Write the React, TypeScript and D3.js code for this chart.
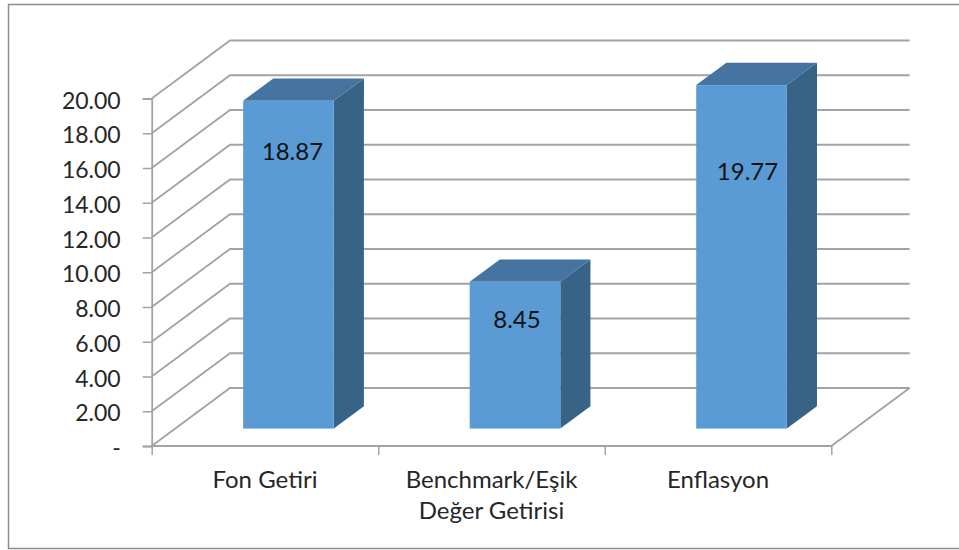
import { useEffect, useRef } from 'react';
import * as d3 from 'd3';

const categories = ['Fon Getiri', 'Benchmark/Eşik Değer Getirisi', 'Enflasyon'];
const values = [18.87, 8.45, 19.77];
const yTicks = [0, 2, 4, 6, 8, 10, 12, 14, 16, 18, 20];

// the labels do not sit at a fixed place on the bars
const labelDrop = [59.5, 46, 95];
const labelShift = [4, 2, 6];
const categoryLines = [['Fon Getiri'], ['Benchmark/Eşik', 'Değer Getirisi'], ['Enflasyon']];

const FONT = 'Lato, "Noto Sans", sans-serif';
const TEXT = '#262626';
const GRID = '#a3a3a3';

export default function App() {
  const svgRef = useRef<SVGSVGElement>(null);

  useEffect(() => {
    const svg = d3.select(svgRef.current);
    svg.selectAll('*').remove();

    // front plane and depth of the 3d box
    const left = 151.7;
    const right = 831.3;
    const base = 446;
    const top = 98.5;
    const depthX = 78.3;
    const depthY = -58;

    const x = d3.scaleBand().domain(categories).range([left, right]);
    const y = d3.scaleLinear().domain([0, 20]).range([base, top]);
    // 0 = front plane, 1 = back wall
    const dx = d3.scaleLinear().domain([0, 1]).range([0, depthX]);
    const dy = d3.scaleLinear().domain([0, 1]).range([0, depthY]);

    svg.append('rect')
      .attr('x', 8.5).attr('y', 4.5)
      .attr('width', 970).attr('height', 544)
      .attr('fill', '#fff')
      .attr('stroke', '#8c8c8c')
      .attr('stroke-width', 1.5);

    // Gridlines: side wall then back wall
    const line = d3.line();
    const grid = svg.append('g').attr('fill', 'none').attr('stroke', GRID).attr('stroke-width', 1.8);
    yTicks.forEach(t => {
      grid.append('path').attr('d', line([
        [left, y(t)],
        [left + dx(1), y(t) + dy(1)],
        [right + dx(1), y(t) + dy(1)],
      ]));
    });

    // Floor
    grid.append('path').attr('d', line([
      [left, base],
      [right, base],
      [right + dx(1), base + dy(1)],
    ]));

    // Y axis
    const yAxis = svg.append('g')
      .attr('transform', `translate(${left},0)`)
      .call(d3.axisLeft(y)
        .tickValues(yTicks)
        .tickSize(9)
        .tickPadding(22)
        .tickFormat(d => (+d === 0 ? '-' : d3.format('.2f')(+d))));
    yAxis.selectAll('.domain').attr('stroke', GRID).attr('stroke-width', 1.8);
    yAxis.selectAll('.tick line').attr('stroke', GRID).attr('stroke-width', 1.5);
    yAxis.selectAll('text')
      .attr('dy', '0.42em')
      .style('font-family', FONT)
      .style('font-size', '23px')
      .style('fill', TEXT);

    // X axis, ticks sit between the categories
    const xEdges = d3.scaleLinear().domain([0, categories.length]).range([left, right]);
    const xAxis = svg.append('g')
      .attr('transform', `translate(0,${base})`)
      .call(d3.axisBottom(xEdges).ticks(categories.length).tickSize(9).tickFormat(() => ''));
    xAxis.selectAll('.domain').remove();
    xAxis.selectAll('.tick line').attr('stroke', GRID).attr('stroke-width', 1.5);

    // Bars
    const barWidth = x.bandwidth() * 0.4;
    const near = 0.3;
    const far = 0.685;
    values.forEach((v, i) => {
      const cx = x(categories[i])! + x.bandwidth() / 2 + dx(near);
      const x0 = cx - barWidth / 2;
      const x1 = cx + barWidth / 2;
      const yb = y(0) + dy(near);
      const yt = y(v) + dy(near);
      const ox = dx(far) - dx(near);
      const oy = dy(far) - dy(near);
      const g = svg.append('g');
      g.append('path').attr('fill', '#376387').attr('d', line([
        [x1, yt], [x1 + ox, yt + oy], [x1 + ox, yb + oy], [x1, yb],
      ])! + 'Z');
      g.append('path').attr('fill', '#44749f').attr('d', line([
        [x0, yt], [x0 + ox, yt + oy], [x1 + ox, yt + oy], [x1, yt],
      ])! + 'Z');
      g.append('rect')
        .attr('x', x0).attr('y', yt)
        .attr('width', barWidth).attr('height', yb - yt)
        .attr('fill', '#5b9bd5');
      g.append('text')
        .attr('x', cx + labelShift[i])
        .attr('y', yt + labelDrop[i])
        .attr('text-anchor', 'middle')
        .style('font-family', FONT)
        .style('font-size', '24px')
        .style('fill', '#111')
        .text(d3.format('.2f')(v));
    });

    // Category labels
    categoryLines.forEach((lines, i) => {
      const cx = x(categories[i])! + x.bandwidth() / 2;
      lines.forEach((l, j) => {
        svg.append('text')
          .attr('x', cx)
          .attr('y', 488 + j * 31)
          .attr('text-anchor', 'middle')
          .style('font-family', FONT)
          .style('font-size', '24px')
          .style('fill', TEXT)
          .text(l);
      });
    });
  }, []);

  return <svg ref={svgRef} width={959} height={550} style={{ position: 'absolute', left: 0, top: 0 }} />;
}
